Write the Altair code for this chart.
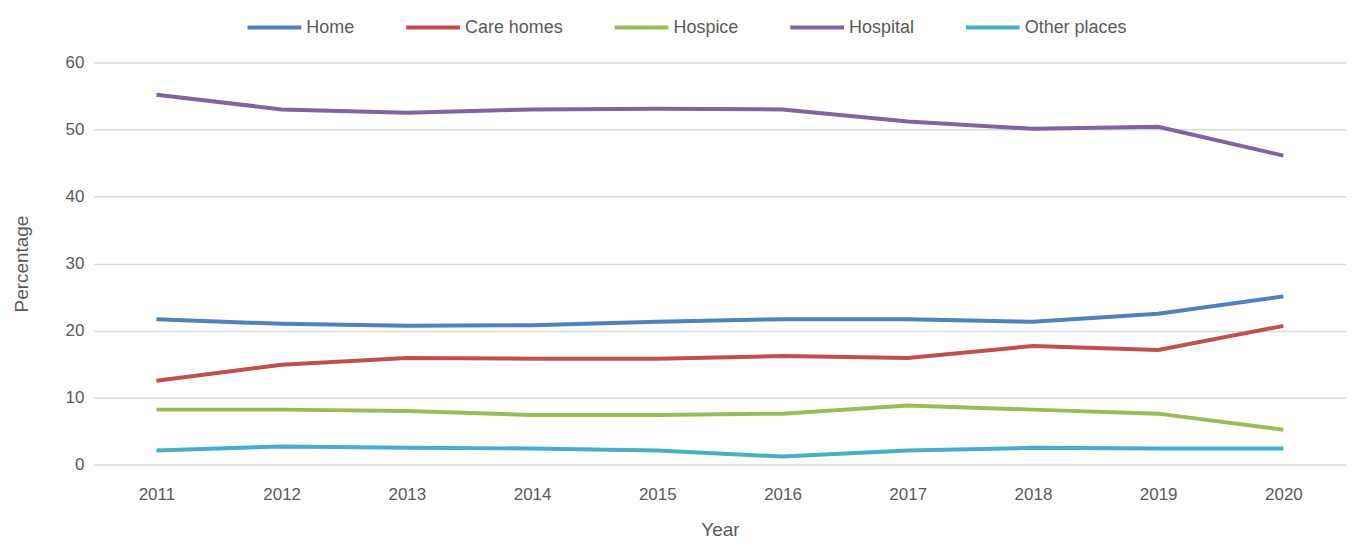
import altair as alt
import pandas as pd

years = ["2011", "2012", "2013", "2014", "2015", "2016", "2017", "2018", "2019", "2020"]
series_names = ["Home", "Care homes", "Hospice", "Hospital", "Other places"]
home = [21.7, 21.0, 20.7, 20.8, 21.3, 21.7, 21.7, 21.3, 22.5, 25.1]
care_homes = [12.5, 14.9, 15.9, 15.8, 15.8, 16.2, 15.9, 17.7, 17.1, 20.7]
hospice = [8.2, 8.2, 8.0, 7.4, 7.4, 7.6, 8.8, 8.2, 7.6, 5.2]
hospital = [55.2, 53.0, 52.5, 53.0, 53.1, 53.0, 51.2, 50.1, 50.4, 46.1]
other_places = [2.1, 2.7, 2.5, 2.4, 2.1, 1.2, 2.1, 2.5, 2.4, 2.4]
colors = ["#4F81BD", "#C0504D", "#9BBB59", "#8064A2", "#4BACC6"]

values = [home, care_homes, hospice, hospital, other_places]
rows = []
for name, vals in zip(series_names, values):
    for y, v in zip(years, vals):
        rows.append({"Year": y, "Percentage": v, "Series": name})
df = pd.DataFrame(rows)

FONT = "Liberation Sans"

chart = alt.Chart(df).mark_line(strokeWidth=4).encode(
    x=alt.X("Year:O", sort=years,
            scale=alt.Scale(type="point", padding=0.5),
            axis=alt.Axis(title="Year", labelAngle=0, ticks=False, domain=False,
                          grid=False, labelPadding=22, titlePadding=18,
                          labelFontSize=17, titleFontSize=19,
                          labelColor="#595959", titleColor="#595959",
                          labelFont=FONT, titleFont=FONT, titleFontWeight="normal")),
    y=alt.Y("Percentage:Q", scale=alt.Scale(domain=[0, 60]),
            axis=alt.Axis(title="Percentage", values=[0, 10, 20, 30, 40, 50, 60],
                          ticks=False, domain=False, grid=True,
                          gridColor="#D9D9D9", gridWidth=1.5,
                          labelPadding=10, titlePadding=34,
                          labelFontSize=17, titleFontSize=19,
                          labelColor="#595959", titleColor="#595959",
                          labelFont=FONT, titleFont=FONT, titleFontWeight="normal")),
    color=alt.Color("Series:N", sort=series_names,
                    scale=alt.Scale(domain=series_names, range=colors),
                    legend=alt.Legend(title=None, orient="none", direction="horizontal",
                                      legendX=152, legendY=-64,
                                      symbolType="stroke", symbolSize=2900,
                                      symbolStrokeWidth=4, labelOffset=3,
                                      columnPadding=43, labelFontSize=18,
                                      labelFont=FONT, labelColor="#595959")),
).properties(
    width=1255, height=403,
    autosize=alt.AutoSizeParams(type="none"),
    padding={"left": 86, "top": 54, "right": 0, "bottom": 80},
).configure_view(stroke=None)

chart.save("out.html", embed_options={"renderer": "svg", "actions": False})
